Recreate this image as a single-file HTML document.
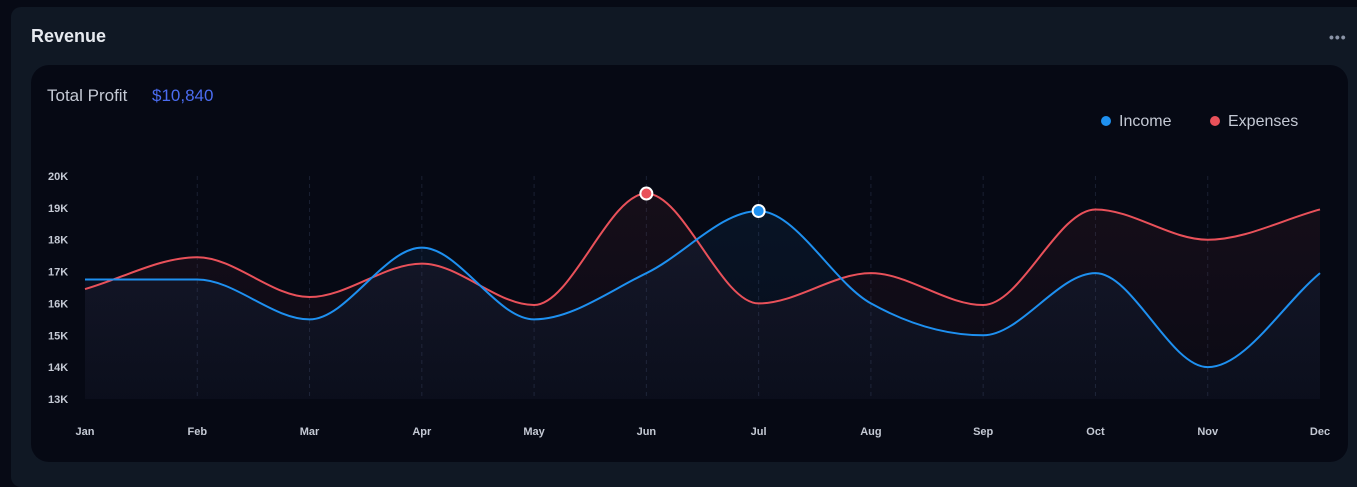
<!DOCTYPE html>
<html><head><meta charset="utf-8"><style>
body{margin:0;width:1357px;height:478px;background:#070a15;overflow:hidden;font-family:"Liberation Sans",sans-serif}
#card{position:absolute;left:11px;top:7px;width:1360px;height:480px;background:#101824;border-radius:10px}
#title{position:absolute;left:20px;top:19px;color:#e6e9ef;font-size:18px;font-weight:bold}
#dots{position:absolute;left:1318px;top:22px;color:#8a93a6;font-size:14px;letter-spacing:1px;font-weight:bold}
#panel{position:absolute;left:31px;top:65px;width:1317px;height:397px;background:#060914;border-radius:18px}
svg{position:absolute;left:0;top:0}
</style></head><body>
<div id="card">
<div id="title">Revenue</div>
<div id="dots">•••</div>
</div>
<div id="panel"></div>
<svg id="chart" width="1357" height="478">
<text x="47" y="101" fill="#c4c9d4" font-size="17">Total Profit</text>
<text x="152" y="101" fill="#4b6cf0" font-size="17">$10,840</text>
<g>
<circle cx="1106" cy="121" r="5" fill="#1e90f0"/>
<text x="1119" y="126" fill="#c4c9d4" font-size="16">Income</text>
<circle cx="1215" cy="121" r="5" fill="#e9515a"/>
<text x="1228" y="126" fill="#c4c9d4" font-size="16">Expenses</text>
</g>
<defs>
<linearGradient id="gi" x1="0" y1="0" x2="0" y2="1"><stop offset="0" stop-color="#1e90f0" stop-opacity="0.08"/><stop offset="1" stop-color="#1e90f0" stop-opacity="0.03"/></linearGradient>
<linearGradient id="ge" x1="0" y1="0" x2="0" y2="1"><stop offset="0" stop-color="#e9515a" stop-opacity="0.07"/><stop offset="1" stop-color="#e9515a" stop-opacity="0.02"/></linearGradient>
</defs>
<g id="grid"></g><g id="areas"></g><g id="lines"></g><g id="marks"></g><g id="axes"></g>
</svg>
<script>
const months=["Jan","Feb","Mar","Apr","May","Jun","Jul","Aug","Sep","Oct","Nov","Dec"];
const income=[16.75,16.75,15.5,17.75,15.5,16.95,18.9,16,15,16.95,14,16.95];
const expenses=[16.45,17.45,16.2,17.25,15.95,19.45,16,16.95,15.95,18.95,18,18.95];
const yTicks=[13,14,15,16,17,18,19,20];
const X0=85,X1=1320,Y0=399,Y1=176,ymin=13,ymax=20;
const xs=i=>X0+(X1-X0)*i/(months.length-1);
const ys=v=>Y0-(v-ymin)/(ymax-ymin)*(Y0-Y1);
const NS="http://www.w3.org/2000/svg";
function mk(t,a,p){const e=document.createElementNS(NS,t);for(const k in a)e.setAttribute(k,a[k]);p.appendChild(e);return e;}
function path(vals){
 const p=vals.map((v,i)=>[xs(i),ys(v)]),n=p.length,d=[],m=[];
 for(let i=0;i<n-1;i++)d.push((p[i+1][1]-p[i][1])/(p[i+1][0]-p[i][0]));
 m[0]=d[0];m[n-1]=d[n-2];
 for(let i=1;i<n-1;i++)m[i]=d[i-1]*d[i]<=0?0:(d[i-1]+d[i])/2;
 for(let i=0;i<n-1;i++){if(d[i]===0){m[i]=0;m[i+1]=0;}}
 let s=`M${p[0][0]},${p[0][1]}`;
 for(let i=0;i<n-1;i++){const h=(p[i+1][0]-p[i][0])/3;
  s+=` C${p[i][0]+h},${p[i][1]+m[i]*h} ${p[i+1][0]-h},${p[i+1][1]-m[i+1]*h} ${p[i+1][0]},${p[i+1][1]}`;}
 return s;
}
const grid=document.getElementById('grid'),axes=document.getElementById('axes'),areas=document.getElementById('areas'),lines=document.getElementById('lines'),marks=document.getElementById('marks');
months.forEach((m,i)=>{
 if(i>0&&i<months.length-1){const g=mk('line',{x1:xs(i),x2:xs(i),y1:Y1,y2:Y0,stroke:'#1a2032','stroke-dasharray':'4 4'},grid);
 
 }
 const t=mk('text',{x:xs(i),y:435,fill:'#c4c9d4','font-size':11,'font-weight':'bold','text-anchor':'middle'},axes);t.textContent=m;
 
 
});
yTicks.forEach(v=>{const t=mk('text',{x:48,y:ys(v)+4,fill:'#c4c9d4','font-size':11,'font-weight':'bold'},axes);t.textContent=v+'K';
 
 });
[[expenses,'#e9515a','ge','expenses'],[income,'#1e90f0','gi','income']].forEach(([vals,c,g,n])=>{
 const p=path(vals);
 const a=mk('path',{d:p+` L${X1},${Y0} L${X0},${Y0} Z`,fill:`url(#${g})`},areas);
 
 
 const l=mk('path',{d:p,fill:'none',stroke:c,'stroke-width':2},lines);
 
 
 let mi=0;vals.forEach((v,i)=>{if(v>vals[mi])mi=i;});
 const c2=mk('circle',{cx:xs(mi),cy:ys(vals[mi]),r:6,fill:c,stroke:'#fff','stroke-width':2},marks);
 
 
});
</script>
</body></html>
